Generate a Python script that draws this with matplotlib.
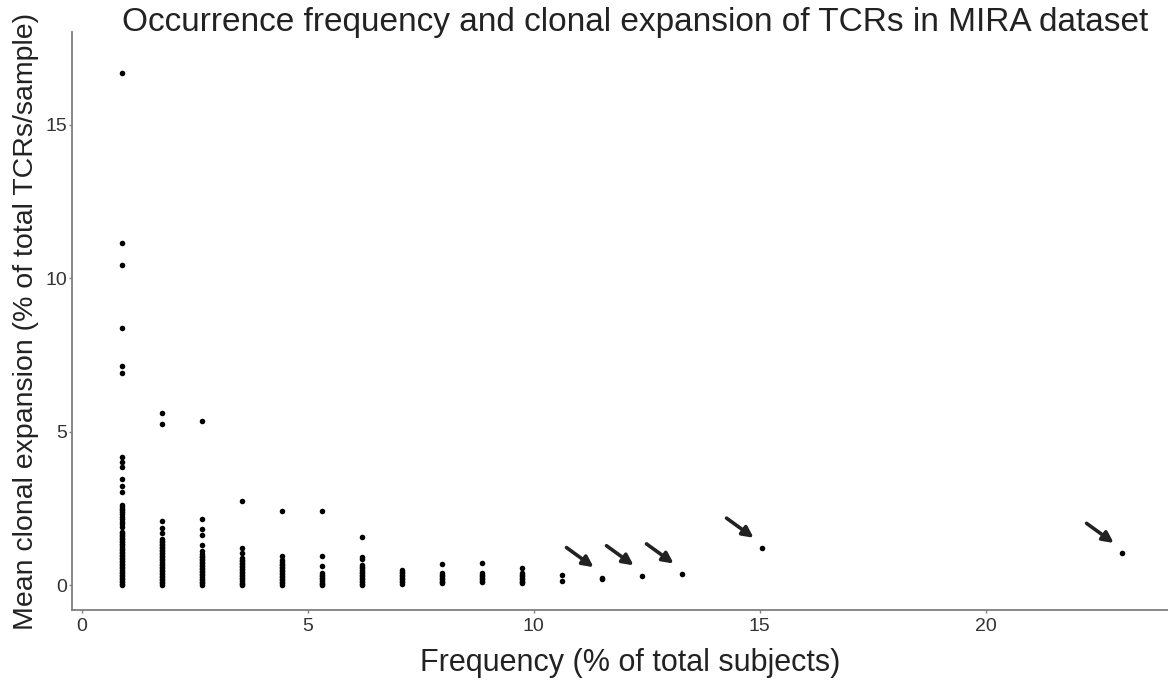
import matplotlib.pyplot as plt

plt.rcParams['font.family'] = ['Liberation Sans', 'DejaVu Sans']

# frequency of each TCR group (% of 113 subjects)
freq = [0.885, 1.770, 2.655, 3.540, 4.425, 5.310, 6.195, 7.080, 7.965,
        8.850, 9.735, 10.619, 11.504, 12.389, 13.274, 15.044, 23.009]

# mean clonal expansion values read per frequency column
expansion = [
    [16.7, 11.15, 10.43, 8.38, 7.14, 6.91, 4.18, 4.02, 3.86, 3.46, 3.24, 3.04,
     2.61, 2.55, 2.49, 2.43, 2.37, 2.30, 2.22, 2.14, 2.06, 1.98, 1.90,
     1.74, 1.69, 1.64, 1.59, 1.54, 1.49, 1.44, 1.39, 1.34, 1.29, 1.24, 1.19,
     1.14, 1.09, 1.04, 0.99, 0.94, 0.89, 0.84, 0.79, 0.74, 0.69, 0.64, 0.59,
     0.54, 0.49, 0.44, 0.39, 0.34, 0.29, 0.24, 0.19, 0.14, 0.09, 0.04, 0.0],
    [5.62, 5.24, 2.09, 1.85, 1.71,
     1.50, 1.45, 1.40, 1.35, 1.30, 1.25, 1.20, 1.15, 1.10, 1.05, 1.00, 0.95,
     0.90, 0.85, 0.80, 0.75, 0.70, 0.65, 0.60, 0.55, 0.50, 0.45, 0.40, 0.35,
     0.30, 0.25, 0.20, 0.15, 0.10, 0.05, 0.0],
    [5.36, 2.15, 1.84, 1.64, 1.29, 1.10, 1.02,
     0.96, 0.91, 0.86, 0.81, 0.76, 0.71, 0.66, 0.61, 0.56, 0.51, 0.46, 0.41,
     0.36, 0.31, 0.26, 0.21, 0.16, 0.11, 0.06, 0.0],
    [2.74, 1.20, 1.03,
     0.88, 0.83, 0.78, 0.73, 0.68, 0.63, 0.58, 0.53, 0.48, 0.43, 0.38, 0.33,
     0.28, 0.23, 0.18, 0.13, 0.08, 0.03, 0.0],
    [2.41, 0.95,
     0.80, 0.75, 0.70, 0.65, 0.60, 0.55, 0.50, 0.45, 0.40, 0.35, 0.30, 0.25,
     0.20, 0.15, 0.10, 0.05, 0.0],
    [2.40, 0.96, 0.62,
     0.38, 0.33, 0.28, 0.23, 0.18, 0.13, 0.08, 0.03, 0.0],
    [1.58, 0.92, 0.84,
     0.64, 0.59, 0.54, 0.49, 0.44, 0.39, 0.34, 0.29, 0.24, 0.19, 0.14, 0.09,
     0.04, 0.0],
    [0.49, 0.44, 0.39, 0.34, 0.29, 0.24, 0.19, 0.14, 0.09, 0.04],
    [0.68, 0.39, 0.34, 0.29, 0.24, 0.19, 0.14, 0.09, 0.07],
    [0.73, 0.39, 0.34, 0.29, 0.24, 0.19, 0.14, 0.10],
    [0.56, 0.39, 0.34, 0.29, 0.24, 0.19, 0.14, 0.09, 0.06],
    [0.33, 0.14],
    [0.24, 0.20],
    [0.30],
    [0.36],
    [1.20],
    [1.03],
]

# columns pointed out with arrows (index into freq)
highlighted = [12, 13, 14, 15, 16]

W, H = 1168, 682
fig = plt.figure(figsize=(W / 100, H / 100), dpi=100)
ax = fig.add_axes([72 / W, (H - 610) / H, (W - 72) / W, (610 - 32) / H])

for x, ys in zip(freq, expansion):
    ax.scatter([x] * len(ys), ys, s=16, color='black', linewidths=0, zorder=3)

for i in highlighted:
    x, y = freq[i], expansion[i][0]
    ax.annotate('', xy=(x - 0.18, y + 0.34), xytext=(x - 0.78, y + 0.98),
                arrowprops=dict(arrowstyle='-|>', lw=2.6, color='#222222',
                                mutation_scale=16, shrinkA=0, shrinkB=0))

ax.set_xlim(-0.215, 24.03)
ax.set_ylim(-0.815, 18.03)
ax.set_xticks([0, 5, 10, 15, 20])
ax.set_yticks([0, 5, 10, 15])

for side in ['top', 'right']:
    ax.spines[side].set_visible(False)
for side in ['left', 'bottom']:
    ax.spines[side].set_color('#7f7f7f')
    ax.spines[side].set_linewidth(1.3)

ax.tick_params(length=2, width=1, color='#7f7f7f', labelcolor='#333333',
               labelsize=14)
ax.tick_params(axis='x', pad=4)
ax.tick_params(axis='y', pad=1.5)

ax.set_xlabel('Frequency (% of total subjects)', fontsize=22, color='#222222')
ax.xaxis.set_label_coords((630 - 72) / (W - 72), (610 - 648) / 578)
ax.set_ylabel('Mean clonal expansion (% of total TCRs/sample)', fontsize=20.5,
              color='#222222')
ax.yaxis.set_label_coords((39 - 72) / (W - 72), 0.5)
fig.text(635 / W, 1 - 22 / H,
         'Occurrence frequency and clonal expansion of TCRs in MIRA dataset',
         fontsize=24, color='#222222', ha='center', va='center')

fig.savefig('out.png', dpi=100)
